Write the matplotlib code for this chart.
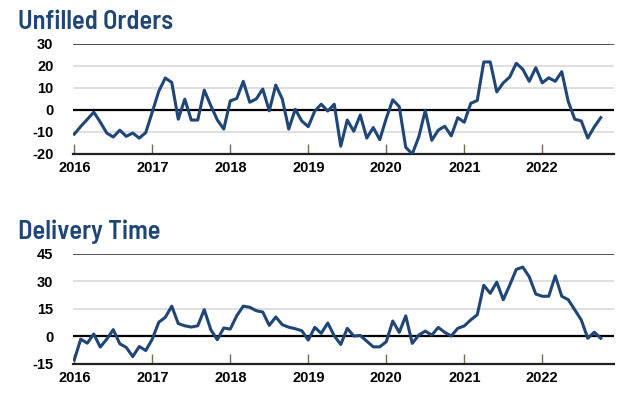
import numpy as np
import matplotlib
matplotlib.use("Agg")
from matplotlib import pyplot as plt

# monthly values, Jan 2016 - Oct 2022
unfilled_orders = [-11, -7.5, -4.3, -1, -5.5, -10.5, -12.3, -9.2, -12, -10.5, -12.8, -10.3,
                   -1, 8.5, 14.5, 12.5, -4.2, 4.9, -4.6, -4.6, 9, 2, -4.5, -8.7,
                   4.1, 5.2, 13, 3.5, 5, 9.5, -0.4, 11.3, 5, -8.7, 0.3, -5,
                   -7.6, -0.5, 2.6, -0.5, 2.6, -16.5, -4.6, -9.7, -2.3, -12.8, -8, -13.5,
                   -3.8, 4.6, 1.5, -17, -20, -12.3, -0.3, -13.8, -9.2, -7.4, -11.8, -3.5,
                   -5.6, 3, 4.3, 21.8, 21.8, 8.2, 12.3, 15, 21.2, 18.5, 13, 19.2,
                   12.3, 14.6, 13, 17.4, 3.8, -4.2, -5, -12.8, -7.7, -3.5]
delivery_time = [-12.8, -1.5, -3.7, 1.3, -5.8, -1.5, 3.7, -4, -6, -11, -5.5, -7.7,
                 -1.5, 7.7, 10.4, 16.5, 7, 5.8, 5.1, 5.8, 14.6, 3.7, -1.8, 4.6,
                 4, 11.3, 16.5, 15.9, 14, 13.3, 6, 10.6, 6.4, 5, 4.2, 3.1,
                 -2, 4.9, 1.7, 7.3, 0.3, -4.4, 4.4, 0.2, 0.5, -2.6, -5.7, -5.7,
                 -2.9, 8.4, 2.2, 11.2, -3.8, 0.7, 2.9, 0.7, 4.9, 2.2, 0.2, 4.4,
                 5.7, 9, 11.8, 27.9, 23.5, 29.6, 20, 28, 36.5, 37.8, 32.5, 23.1,
                 21.9, 21.9, 33, 21.9, 20, 14.5, 9, -1, 2.3, -1]
years = ['2016', '2017', '2018', '2019', '2020', '2021', '2022']

navy = '#1f4676'
title_font = ['Barlow Semi Condensed', 'DejaVu Sans']
tick_font = ['Liberation Sans', 'DejaVu Sans']

fig = plt.figure(figsize=(6.4, 4.03), dpi=100)

panels = [
    ('Unfilled Orders', unfilled_orders, [-20, -10, 0, 10, 20, 30], 0.618, 0.946),
    ('Delivery Time', delivery_time, [-15, 0, 15, 30, 45], 0.097, 0.424),
]

for title, vals, yt, bottom, ty in panels:
    ax = fig.add_axes([0.114, bottom, 0.845, 0.273])
    x = np.arange(len(vals))
    for v in yt[1:-1]:
        ax.axhline(v, color='#d9d9d9', lw=1.2, zorder=1)
    ax.axhline(0, color='black', lw=1.6, zorder=2)
    ax.axhline(yt[-1], color='#333333', lw=1.2, zorder=2)
    ax.plot(x, vals, color=navy, lw=2.2, zorder=3)
    ax.set_ylim(yt[0], yt[-1])
    ax.set_xlim(-0.2, 83)
    ax.set_yticks(yt)
    ax.set_yticklabels([str(v) for v in yt], fontweight='bold', fontsize=10.5,
                       family=tick_font)
    ax.set_xticks(np.arange(len(years)) * 12)
    ax.set_xticklabels(years, fontweight='bold', fontsize=10.5, family=tick_font)
    ax.tick_params(axis='y', length=0, pad=14)
    ax.tick_params(axis='x', direction='in', length=7, width=1, color='#7a6a50', pad=5)
    for s in ['top', 'left', 'right']:
        ax.spines[s].set_visible(False)
    ax.spines['bottom'].set_linewidth(1.6)
    ax.spines['bottom'].set_color('#222222')
    fig.text(0.028, ty, title, color=navy, fontsize=19, family=title_font,
             fontweight=600, va='center', ha='left')

fig.savefig('out.png', dpi=100)
